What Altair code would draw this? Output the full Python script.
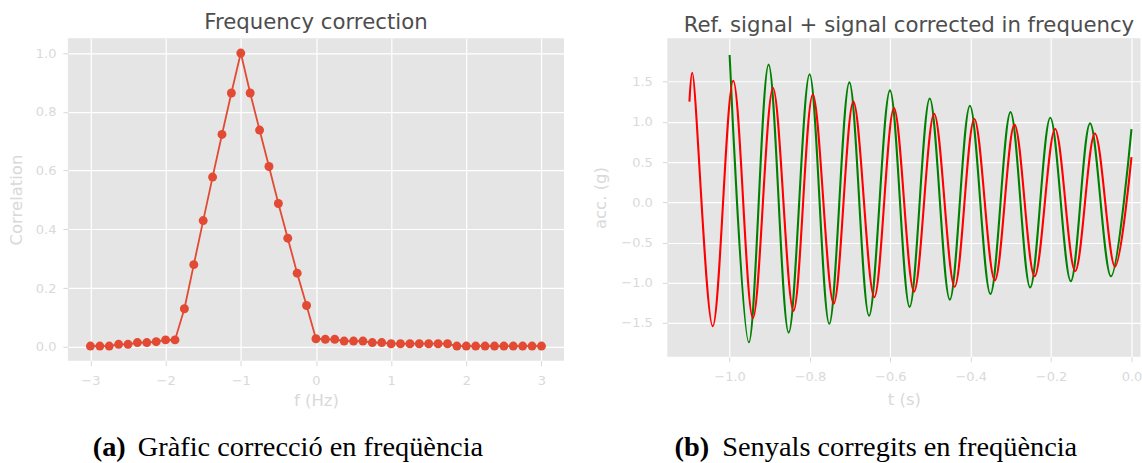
import altair as alt
import pandas as pd

# ---------------- data ----------------
freq = [-3.0, -2.875, -2.75, -2.625, -2.5, -2.375, -2.25, -2.125, -2.0, -1.875,
        -1.75, -1.625, -1.5, -1.375, -1.25, -1.125, -1.0,
        -0.875, -0.75, -0.625, -0.5, -0.375, -0.25, -0.125, 0.0,
        0.125, 0.25, 0.375, 0.5, 0.625, 0.75, 0.875, 1.0,
        1.125, 1.25, 1.375, 1.5, 1.625, 1.75,
        1.875, 2.0, 2.125, 2.25, 2.375, 2.5, 2.625, 2.75, 2.875, 3.0]
corr = [0.003, 0.003, 0.003, 0.009, 0.009, 0.015, 0.015, 0.018, 0.024, 0.024,
        0.13, 0.28, 0.43, 0.578, 0.723, 0.864, 1.0,
        0.864, 0.738, 0.614, 0.488, 0.37, 0.251, 0.141, 0.028,
        0.026, 0.026, 0.02, 0.02, 0.02, 0.015, 0.015, 0.011,
        0.011, 0.011, 0.011, 0.011, 0.011, 0.011,
        0.003, 0.003, 0.003, 0.003, 0.003, 0.003, 0.003, 0.003, 0.003, 0.003]

green_t = [-1.000, -0.952, -0.903, -0.853, -0.801, -0.752, -0.702, -0.653, -0.601, -0.552,
           -0.502, -0.452, -0.402, -0.351, -0.301, -0.252, -0.202, -0.151, -0.103, -0.051, 0.000]
green_v = [1.83, -1.74, 1.71, -1.62, 1.59, -1.51, 1.49, -1.41, 1.39, -1.30,
           1.29, -1.21, 1.20, -1.14, 1.12, -1.06, 1.05, -0.98, 0.98, -0.92, 0.91]

red_t = [-1.100, -1.093, -1.042, -0.991, -0.942, -0.892, -0.841, -0.793, -0.741, -0.692,
         -0.640, -0.591, -0.541, -0.491, -0.440, -0.391, -0.340, -0.291, -0.241, -0.190,
         -0.140, -0.091, -0.041, 0.000]
red_v = [1.25, 1.61, -1.54, 1.51, -1.44, 1.42, -1.35, 1.34, -1.26, 1.25,
         -1.18, 1.17, -1.11, 1.10, -1.05, 1.035, -0.97, 0.965, -0.92, 0.91,
         -0.855, 0.855, -0.80, 0.56]

f_ticks = [-3, -2, -1, 0, 1, 2, 3]
c_ticks = [0.0, 0.2, 0.4, 0.6, 0.8, 1.0]
t_ticks = [-1.0, -0.8, -0.6, -0.4, -0.2, 0.0]
a_ticks = [-1.5, -1.0, -0.5, 0.0, 0.5, 1.0, 1.5]

cap_a = ["(a)", "Gràfic correcció en freqüència"]
cap_b = ["(b)", "Senyals corregits en freqüència"]

# ---------------- styling ----------------
BG = "#E5E5E5"
LIGHT = "#D9D9D9"
TITLE_C = "#4D4D4D"
ORANGE = "#E24A33"
SERIF = "Liberation Serif"
SANS = "DejaVu Sans"

df_corr = pd.DataFrame({"f": freq, "c": corr})
df_g = pd.DataFrame({"t": green_t, "v": green_v})
df_r = pd.DataFrame({"t": red_t, "v": red_v})


def caption(parts, x_bold, x_text, y):
    one = pd.DataFrame({"k": [0]})
    b = alt.Chart(one).mark_text(
        text=parts[0], font=SERIF, fontWeight="bold", fontSize=28.4,
        align="right", baseline="alphabetic", color="black"
    ).encode(x=alt.value(x_bold), y=alt.value(y))
    t = alt.Chart(one).mark_text(
        text=parts[1], font=SERIF, fontWeight="normal", fontSize=28.4,
        align="left", baseline="alphabetic", color="black"
    ).encode(x=alt.value(x_text), y=alt.value(y))
    return b, t


# ---------------- left panel ----------------
xL = alt.X("f:Q", scale=alt.Scale(domain=[-3.3, 3.3], nice=False, zero=False),
           axis=alt.Axis(values=f_ticks, format="d", title="f (Hz)",
                         labelPadding=9, titlePadding=4.5))
yL = alt.Y("c:Q", scale=alt.Scale(domain=[-0.047, 1.05], nice=False, zero=False),
           axis=alt.Axis(values=c_ticks, format=".1f", title="Correlation",
                         labelPadding=7, titlePadding=11))

lineL = alt.Chart(df_corr).mark_line(color=ORANGE, strokeWidth=1.8).encode(x=xL, y=yL)
ptsL = alt.Chart(df_corr).mark_circle(color=ORANGE, size=80, opacity=1).encode(x=xL, y=yL)
capA1, capA2 = caption(cap_a, 58, 70, 418)

left = alt.layer(lineL, ptsL, capA1, capA2).properties(
    width=497, height=323,
    title=alt.TitleParams("Frequency correction", font=SANS, fontSize=21.3,
                          fontWeight="normal", color=TITLE_C, offset=5)
)

# ---------------- right panel ----------------
xR = alt.X("t:Q", scale=alt.Scale(domain=[-1.155, 0.0225], nice=False, zero=False),
           axis=alt.Axis(values=t_ticks, format=".1f", title="t (s)",
                         labelPadding=9, titlePadding=8))
yR = alt.Y("v:Q", scale=alt.Scale(domain=[-1.92, 2.037], nice=False, zero=False),
           axis=alt.Axis(values=a_ticks, format=".1f", title="acc. (g)",
                         labelPadding=10, titlePadding=12.5))

lineG = alt.Chart(df_g).mark_line(color="green", strokeWidth=2.1, interpolate="catmull-rom",
                                  clip=True).encode(x=xR, y=yR)
lineR = alt.Chart(df_r).mark_line(color="red", strokeWidth=2.1, interpolate="catmull-rom",
                                  clip=True).encode(x=xR, y=yR)
capB1, capB2 = caption(cap_b, 42, 55, 418)

right = alt.layer(lineG, lineR, capB1, capB2).properties(
    width=474, height=319,
    title=alt.TitleParams("Ref. signal + signal corrected in frequency", font=SANS,
                          fontSize=21.3, fontWeight="normal", color=TITLE_C,
                          offset=2, dx=5)
)

chart = alt.hconcat(left, right, spacing=27.5).properties(
    padding={"left": 8, "top": 11, "right": 0, "bottom": 0},
    background="white",
).configure_view(
    fill=BG, stroke=None
).configure_axis(
    domain=False,
    grid=True, gridColor="white", gridWidth=1.2,
    tickColor=LIGHT, tickSize=5, tickWidth=1,
    labelColor=LIGHT, labelFont=SANS, labelFontSize=13,
    titleColor=LIGHT, titleFont=SANS, titleFontSize=16.5, titleFontWeight="normal",
)

chart.save("out.html", embed_options={"renderer": "svg", "actions": False})
